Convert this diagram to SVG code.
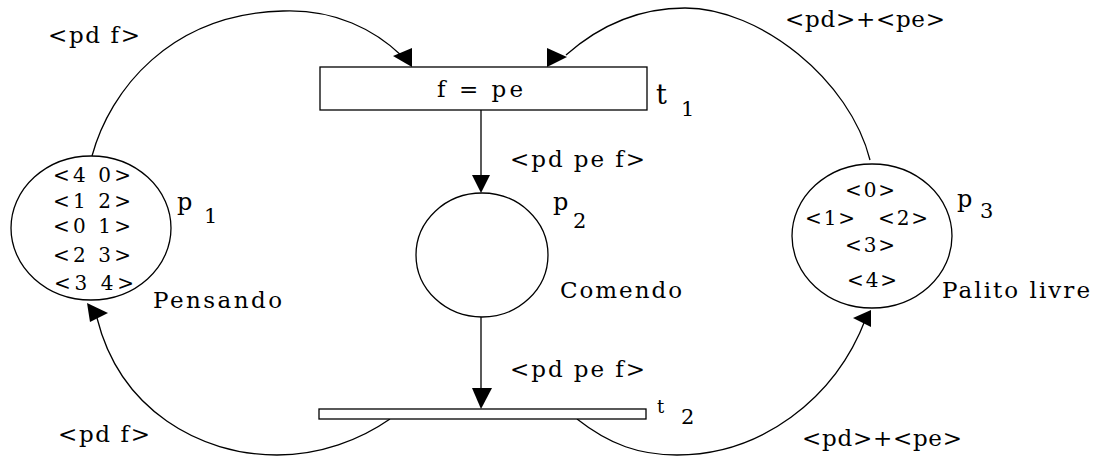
<svg xmlns="http://www.w3.org/2000/svg" width="1102" height="458" viewBox="0 0 1102 458">
<style>
.s{fill:none;stroke:#000;stroke-width:1.3}
.n{fill:#fff;stroke:#000;stroke-width:1.3}
.h{fill:#000;stroke:none}
</style>
<rect width="1102" height="458" fill="#fff"/>
<g id="connectors">
<path class="s" d="M92,156 C110,90 170,14 283,11 C335,9 375,30 402,56"/>
<polygon class="h" points="393,56 412,48 412,67"/>
<path class="s" d="M566,55 C600,25 640,8 685,8 C760,8 850,80 870,160"/>
<polygon class="h" points="547,48 547,67 567,57"/>
<line class="s" x1="481" y1="110" x2="481" y2="178"/>
<polygon class="h" points="472,175 490,175 481,193"/>
<line class="s" x1="481" y1="317" x2="481" y2="392"/>
<polygon class="h" points="472,388 492,388 481,409"/>
<path class="s" d="M97,318 C120,410 200,455 277,455 C320,455 360,440 390,419"/>
<polygon class="h" points="87,303 108,313 90,322"/>
<path class="s" d="M577,419 C610,445 640,455 677,455 C760,455 835,400 866,318"/>
<polygon class="h" points="853,318 871,310 871,327"/>
<g font-family="DejaVu Serif, Liberation Serif, serif" font-size="23" fill="#000">
<text x="48" y="43" textLength="92" lengthAdjust="spacing">&lt;pd f&gt;</text>
<text x="785" y="27" textLength="160" lengthAdjust="spacing">&lt;pd&gt;+&lt;pe&gt;</text>
<text x="510" y="167" textLength="135" lengthAdjust="spacing">&lt;pd pe f&gt;</text>
<text x="510" y="377" textLength="135" lengthAdjust="spacing">&lt;pd pe f&gt;</text>
<text x="58" y="442" textLength="92" lengthAdjust="spacing">&lt;pd f&gt;</text>
<text x="802" y="446" textLength="160" lengthAdjust="spacing">&lt;pd&gt;+&lt;pe&gt;</text>
</g>
</g>
<g id="t1" font-family="DejaVu Serif, Liberation Serif, serif" font-size="23" fill="#000">
<rect class="n" x="320" y="67" width="327" height="43"/>
<text x="437" y="97" textLength="86" lengthAdjust="spacing">f = pe</text>
<text x="656" y="104" font-size="27">t</text>
<text x="681" y="116" font-size="21">1</text>
</g>
<g id="t2" font-family="DejaVu Serif, Liberation Serif, serif" font-size="23" fill="#000">
<rect class="n" x="319" y="409" width="327" height="10"/>
<text x="657" y="413" font-size="18">t</text>
<text x="681" y="424" font-size="21">2</text>
</g>
<g id="p1" font-family="DejaVu Serif, Liberation Serif, serif" font-size="20" fill="#000">
<ellipse class="n" cx="91" cy="228" rx="80" ry="72"/>
<g text-anchor="middle">
<text x="92" y="182" textLength="78" lengthAdjust="spacing">&lt;4 0&gt;</text>
<text x="92" y="208" textLength="78" lengthAdjust="spacing">&lt;1 2&gt;</text>
<text x="92" y="233" textLength="78" lengthAdjust="spacing">&lt;0 1&gt;</text>
<text x="92" y="262" textLength="78" lengthAdjust="spacing">&lt;2 3&gt;</text>
<text x="94" y="290" textLength="80" lengthAdjust="spacing">&lt;3 4&gt;</text>
</g>
<text x="177" y="210" font-size="24">p</text>
<text x="204" y="223" font-size="21">1</text>
<text x="153" y="308" font-size="23" textLength="129" lengthAdjust="spacing">Pensando</text>
</g>
<g id="p2" font-family="DejaVu Serif, Liberation Serif, serif" font-size="23" fill="#000">
<ellipse class="n" cx="482" cy="255" rx="66" ry="62"/>
<text x="553" y="210" font-size="24">p</text>
<text x="573" y="228" font-size="21">2</text>
<text x="560" y="298" textLength="122" lengthAdjust="spacing">Comendo</text>
</g>
<g id="p3" font-family="DejaVu Serif, Liberation Serif, serif" font-size="20" fill="#000">
<ellipse class="n" cx="872" cy="236" rx="80" ry="72"/>
<g text-anchor="middle">
<text x="870" y="197" textLength="50" lengthAdjust="spacing">&lt;0&gt;</text>
<text x="830" y="225" textLength="50" lengthAdjust="spacing">&lt;1&gt;</text>
<text x="903" y="225" textLength="50" lengthAdjust="spacing">&lt;2&gt;</text>
<text x="870" y="252" textLength="50" lengthAdjust="spacing">&lt;3&gt;</text>
<text x="872" y="287" textLength="50" lengthAdjust="spacing">&lt;4&gt;</text>
</g>
<text x="957" y="207" font-size="24">p</text>
<text x="980" y="218" font-size="21">3</text>
<text x="942" y="298" font-size="23" textLength="148" lengthAdjust="spacing">Palito livre</text>
</g>
</svg>
